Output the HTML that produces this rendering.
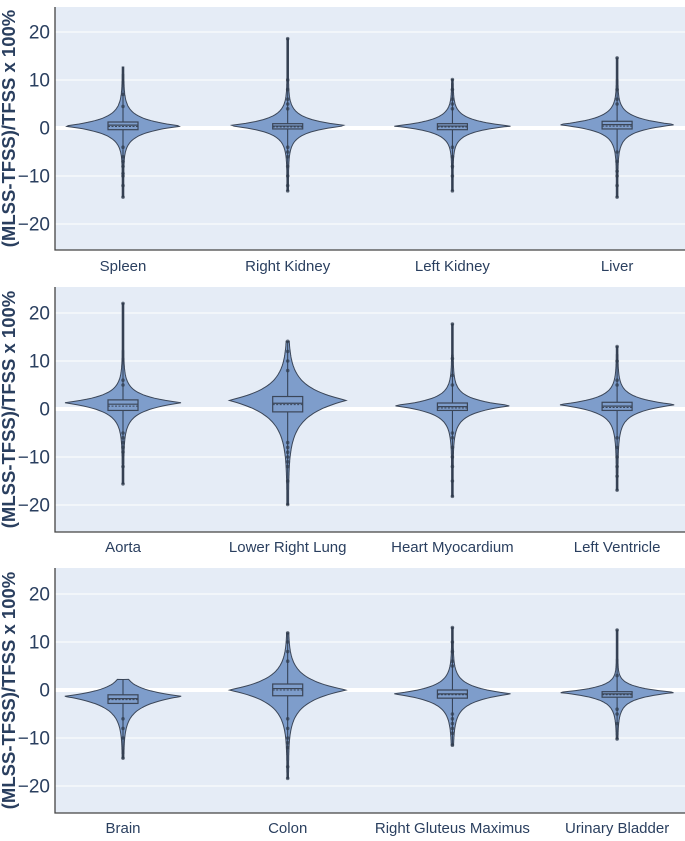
<!DOCTYPE html>
<html><head><meta charset="utf-8"><style>
html,body{margin:0;padding:0;background:#fff;}
svg text{font-family:"Liberation Sans",Arial,sans-serif;}
</style></head><body>
<svg id="chart" width="685" height="836" viewBox="0 0 685 836" xmlns="http://www.w3.org/2000/svg"></svg>
<script>
// ---- data ----
const panel1Categories = ["Spleen","Right Kidney","Left Kidney","Liver"];
const panel2Categories = ["Aorta","Lower Right Lung","Heart Myocardium","Left Ventricle"];
const panel3Categories = ["Brain","Colon","Right Gluteus Maximus","Urinary Bladder"];
const categories = [panel1Categories, panel2Categories, panel3Categories];
const maxValues = [[12.7,18.6,10.1,14.6],[22,14.1,17.7,13],[2.2,11.9,13,12.5]];
const minValues = [[-14.4,-13.1,-13.1,-14.4],[-15.6,-19.9,-18.2,-16.9],[-14.2,-18.4,-11.5,-10.2]];
const q3Values = [[1.25,0.9,0.9,1.4],[1.9,2.6,1.25,1.4],[-1.0,1.25,0,-0.35]];
const q1Values = [[-0.35,-0.2,-0.35,-0.2],[-0.3,-0.6,-0.3,-0.3],[-2.8,-1.2,-1.7,-1.5]];
const medianValues = [[0.6,0.4,0.4,0.7],[1.0,1.2,0.5,0.6],[-1.8,0.3,-0.8,-0.8]];
const meanValues = [[0.3,0.2,0.2,0.4],[0.6,0.9,0.2,0.3],[-2.0,0.0,-1.0,-1.0]];
const peakValues = [[0.4,0.5,0.4,0.7],[1.3,1.8,0.7,0.9],[-1.3,0.0,-0.8,-0.5]];
const spreadUp = [[1.4,1.3,1.2,1.3],[1.4,2.6,1.3,1.3],[1.4,2.2,1.4,1.0]];
const spreadDown = [[1.4,1.3,1.2,1.3],[1.6,3.0,1.5,1.5],[1.9,2.4,1.6,1.2]];
const tailUp = [[5,4.5,4,4],[5,8,5,5],[2.5,6,5,2.5]];
const tailDown = [[4,5,4,5],[6,9,6,7],[6,7,7,5]];
const outlierValues = [
 [[7,4.5,-4,-6,-7,-8,-9.5,-10,-12,-14.4],[18.6,10,8,6,5,4,-4,-5,-6,-8,-10,-12,-13.1],[10.1,8,6,5,4,-4,-6,-8,-10,-13.1],[14.6,8,6,5,-5,-7,-9,-10,-12,-14.4]],
 [[22,6,5,-5,-6,-7,-8,-9,-12,-15.6],[14.1,12,10,8,-7,-8,-9,-10,-11,-12,-15,-19.9],[17.7,10.5,7,5,-5,-6,-8,-10,-12,-15,-18.2],[13,10,6,5,-6,-8,-10,-12,-14,-16.9]],
 [[-6,-8,-10,-14.2],[11.9,10,8,6,-6,-8,-10,-11,-12,-16,-18.4],[13,10,8,6,5,-5,-6,-7,-8,-9,-11.5],[12.5,3,-4,-5,-7,-10.2]]
];
const yTicks = [-20,-10,0,10,20];
const yTickLabels = ["−20","−10","0","10","20"];

// ---- layout ----
const NS="http://www.w3.org/2000/svg";
const svg=document.getElementById('chart');
const panels=[{top:7,bottom:250,zero:128,label:266},{top:287,bottom:532,zero:409,label:547},{top:568,bottom:813,zero:690,label:828}];
const plotL=55, plotR=685, pxPerUnit=4.8, bandW=164.7, firstC=123, halfW=58, boxHalf=15;
function el(tag,attrs,parent){const e=document.createElementNS(NS,tag);for(const k in attrs)e.setAttribute(k,attrs[k]);(parent||svg).appendChild(e);return e;}
function xPos(i){return firstC+i*bandW;}

panels.forEach((p,pi)=>{
  const y=v=>p.zero-v*pxPerUnit;
  const g=el('g',{});
  
  
  const bg=el('rect',{x:plotL,y:p.top,width:plotR-plotL,height:p.bottom-p.top,fill:'#e5ecf6'},g);
  
  
  yTicks.forEach((t,ti)=>{
    const gl=el('line',{x1:plotL,x2:plotR,y1:y(t),y2:y(t),stroke:'#fff','stroke-width':t===0?4:1},g);
    
    
    const tx=el('text',{x:50,y:y(t)+6.5,'text-anchor':'end','font-size':19,fill:'#2a3f5f'},g);
    tx.textContent=yTickLabels[ti];
    
    
  });
  const ax=el('path',{d:`M${plotL},${p.top}V${p.bottom}H${plotR}`,fill:'none',stroke:'#444','stroke-width':1.3},g);
  
  
  const yt=el('text',{x:0,y:0,transform:`translate(15,${(p.top+p.bottom)/2}) rotate(-90)`,'text-anchor':'middle','font-size':18.5,'font-weight':'bold',fill:'#2a3f5f'},g);
  yt.textContent='(MLSS-TFSS)/TFSS x 100%';
  
  

  categories[pi].forEach((c,i)=>{
    const cx=xPos(i);
    const vg=el('g',{},g);
    
    
    const pk=peakValues[pi][i],su=spreadUp[pi][i],sd=spreadDown[pi][i],tu=tailUp[pi][i],td=tailDown[pi][i];
    const mx=maxValues[pi][i],mn=minValues[pi][i];
    function w(v){const d=v-pk;const s=d>0?su:sd;const t=d>0?tu:td;
      return halfW*(0.95*Math.exp(-Math.abs(d)/s)+0.05*Math.exp(-(d/t)*(d/t)))+0.8;}
    const N=160;const right=[],left=[];
    for(let k=0;k<=N;k++){const v=mx-(mx-mn)*k/N;const ww=w(v);right.push([cx+ww,y(v)]);left.push([cx-ww,y(v)]);}
    let d='M'+cx+','+y(mx);
    right.forEach(pt=>d+='L'+pt[0].toFixed(1)+','+pt[1].toFixed(1));
    d+='L'+cx+','+y(mn);
    left.reverse().forEach(pt=>d+='L'+pt[0].toFixed(1)+','+pt[1].toFixed(1));
    d+='Z';
    const vp=el('path',{d:d,fill:'#7e9dcb',stroke:'#3b4658','stroke-width':1},vg);
    
    
    const wl=el('line',{x1:cx,x2:cx,y1:y(mx),y2:y(mn),stroke:'#2f3a4c','stroke-width':1},vg);
    
    
    outlierValues[pi][i].forEach(o=>{
      const dot=el('circle',{cx:cx,cy:y(o),r:1.8,fill:'#2f3a4c','fill-opacity':0.7},vg);
      
      
    });
    const bx=el('rect',{x:cx-boxHalf,y:y(q3Values[pi][i]),width:boxHalf*2,height:y(q1Values[pi][i])-y(q3Values[pi][i]),fill:'#7e9dcb',stroke:'#3b4658','stroke-width':1.2},vg);
    
    
    const md=el('line',{x1:cx-boxHalf,x2:cx+boxHalf,y1:y(medianValues[pi][i]),y2:y(medianValues[pi][i]),stroke:'#3b4658','stroke-width':1.2},vg);
    
    
    const mnl=el('line',{x1:cx-boxHalf,x2:cx+boxHalf,y1:y(meanValues[pi][i]),y2:y(meanValues[pi][i]),stroke:'#3b4658','stroke-width':1,'stroke-dasharray':'2,1.5'},vg);
    
    
    const lb=el('text',{x:cx,y:p.label+5,'text-anchor':'middle','font-size':15,fill:'#2a3f5f'},g);
    lb.textContent=c;
    
    
  });
});
</script>
</body></html>
